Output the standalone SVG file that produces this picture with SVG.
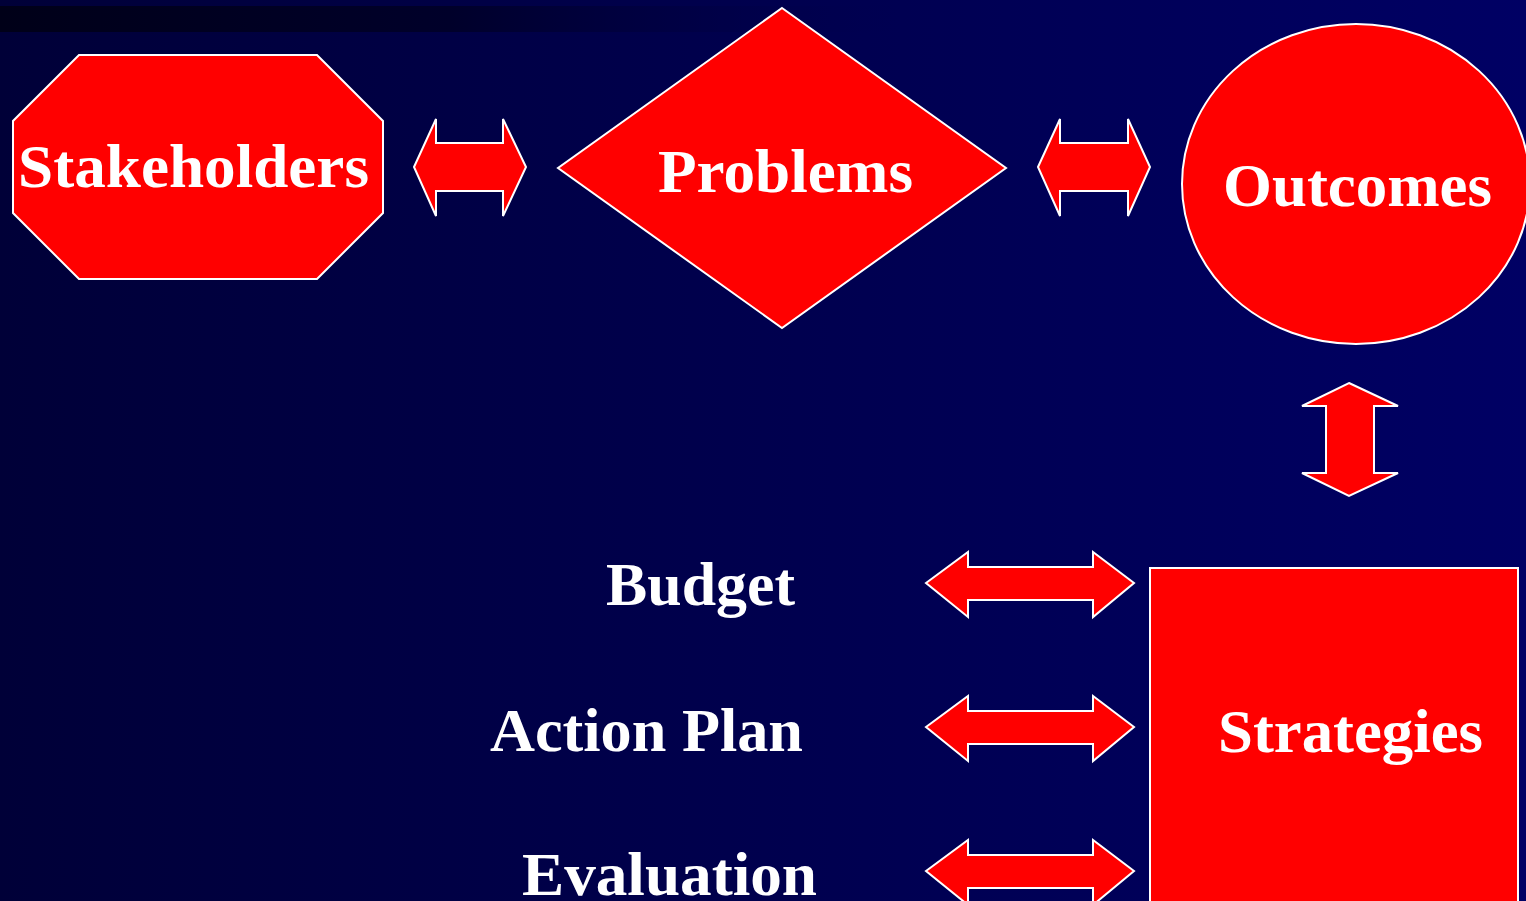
<svg xmlns="http://www.w3.org/2000/svg" width="1526" height="901" viewBox="0 0 1526 901">
<defs>
<linearGradient id="bg" x1="0" y1="0" x2="1" y2="0">
<stop offset="0" stop-color="#000038"/>
<stop offset="1" stop-color="#000064"/>
</linearGradient>
<linearGradient id="band" x1="0" y1="0" x2="1" y2="0">
<stop offset="0" stop-color="#000018"/>
<stop offset="0.5" stop-color="#00002a"/>
<stop offset="1" stop-color="#00004e" stop-opacity="0"/>
</linearGradient>
<style>
.shape{fill:#ff0000;stroke:#ffffff;stroke-width:2;stroke-linejoin:miter}
.lbl{font-family:"Liberation Serif","Times New Roman",serif;font-weight:bold;font-size:62px;fill:#ffffff}
</style>
</defs>
<rect x="0" y="0" width="1526" height="901" fill="url(#bg)"/>
<rect x="0" y="6" width="900" height="26" fill="url(#band)"/>

<g id="connectors">
<polygon class="shape" points="414,167 436,119 436,143 503,143 503,119 526,167 503,216 503,191 436,191 436,216"/>
<polygon class="shape" points="1038,167 1060,119 1060,143 1128,143 1128,119 1150,167 1128,216 1128,191 1060,191 1060,216"/>
<polygon class="shape" points="1349,383 1398,406 1374,406 1374,473 1398,473 1349,496 1302,473 1326,473 1326,406 1302,406"/>
<polygon class="shape" points="926,583 968,552 968,567 1093,567 1093,552 1134,583 1093,617 1093,600 968,600 968,617"/>
<polygon class="shape" points="926,727 968,696 968,711 1093,711 1093,696 1134,727 1093,761 1093,744 968,744 968,761"/>
<polygon class="shape" points="926,871 968,840 968,855 1093,855 1093,840 1134,871 1093,905 1093,888 968,888 968,905"/>
</g>

<g id="stakeholders">
<polygon class="shape" points="79,55 317,55 383,121 383,213 317,279 79,279 13,213 13,121"/>
<text class="lbl" x="18" y="187" textLength="351" lengthAdjust="spacingAndGlyphs">Stakeholders</text>
</g>

<g id="problems">
<polygon class="shape" points="782,8 1006,168 782,328 558,168"/>
<text class="lbl" x="658" y="192" textLength="255" lengthAdjust="spacingAndGlyphs">Problems</text>
</g>

<g id="outcomes">
<ellipse class="shape" cx="1356" cy="184" rx="174" ry="160"/>
<text class="lbl" x="1223" y="206" textLength="269" lengthAdjust="spacingAndGlyphs">Outcomes</text>
</g>

<g id="strategies">
<rect class="shape" x="1150" y="568" width="368" height="345"/>
<text class="lbl" x="1218" y="752" textLength="265" lengthAdjust="spacingAndGlyphs">Strategies</text>
</g>

<g id="budget">
<text class="lbl" x="606" y="605" textLength="189" lengthAdjust="spacingAndGlyphs">Budget</text>
</g>
<g id="action-plan">
<text class="lbl" x="490" y="751" textLength="313" lengthAdjust="spacingAndGlyphs">Action Plan</text>
</g>
<g id="evaluation">
<text class="lbl" x="522" y="895" textLength="295" lengthAdjust="spacingAndGlyphs">Evaluation</text>
</g>
</svg>
